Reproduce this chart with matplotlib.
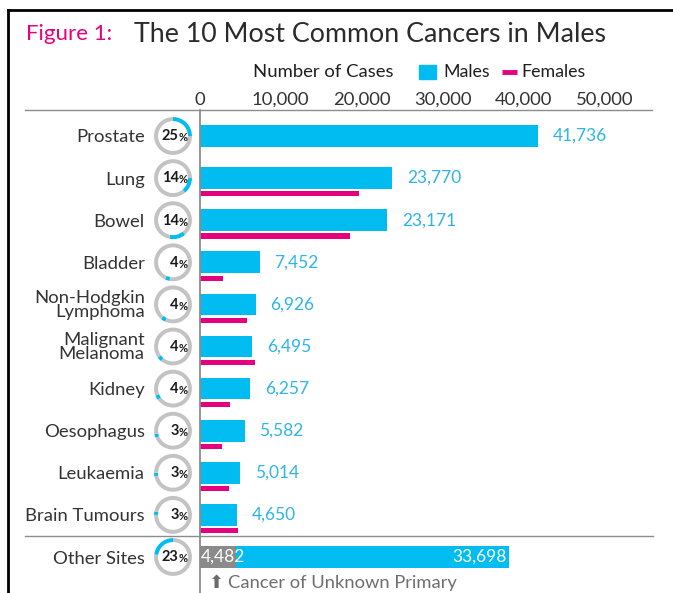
import matplotlib
matplotlib.use("Agg")
import matplotlib.pyplot as plt
from matplotlib.lines import Line2D
from matplotlib.patches import Rectangle

plt.rcParams['font.family'] = ['Lato', 'DejaVu Sans']

# ---- data ----
categories = ["Prostate", "Lung", "Bowel", "Bladder", "Non-Hodgkin\nLymphoma",
              "Malignant\nMelanoma", "Kidney", "Oesophagus", "Leukaemia",
              "Brain Tumours", "Other Sites"]
males = [41736, 23770, 23171, 7452, 6926, 6495, 6257, 5582, 5014, 4650]
females = [0, 19700, 18500, 2950, 5830, 6900, 3820, 2750, 3660, 4700]
percents = [25, 14, 14, 4, 4, 4, 4, 3, 3, 3, 23]
other_unknown_primary = 4482
other_sites = 33698
xticks = [0, 10000, 20000, 30000, 40000, 50000]
xtick_labels = ["0", "10,000", "20,000", "30,000", "40,000", "50,000"]

BLUE = "#00bcf0"
BLUE_TXT = "#2db5e8"
PINK = "#e5007e"
GRAY_RING = "#c3c3c3"
GRAY_BAR = "#8a8a8a"
DARK = "#333333"
LINE = "#8c8c8c"

W, H = 673, 593
fig = plt.figure(figsize=(W / 100, H / 100), dpi=100)

def fx(x):
    return x / W

def fy(y):
    return 1 - y / H

ax_left, ax_right, ax_top, ax_bot = 199.5, 653, 110, 593
ax = fig.add_axes([fx(ax_left), fy(ax_bot), fx(ax_right - ax_left), (ax_bot - ax_top) / H])
px_per_unit = 81.1 / 10000
ax.set_xlim(0, (ax_right - ax_left) / px_per_unit)
row0, rowstep = 136, 42.1
ax.set_ylim((ax_bot - row0) / rowstep, (ax_top - row0) / rowstep)

n = len(males)
rows = list(range(n))
male_h = 0.515
fem_off, fem_h = 0.375, 0.12

ax.barh(rows, males, height=male_h, color=BLUE, edgecolor="none")
fem_rows = [r + fem_off for r, f in zip(rows, females) if f > 0]
fem_vals = [f for f in females if f > 0]
ax.barh(fem_rows, fem_vals, height=fem_h, color=PINK, edgecolor="none")

for r, v in zip(rows, males):
    ax.annotate(f"{v:,}", (v, r), xytext=(10.5, 0), textcoords="offset points",
                va="center", ha="left", fontsize=12.5, color=BLUE_TXT)

# Other sites row
orow = n
ax.barh([orow], [other_unknown_primary], height=male_h, color=GRAY_BAR, edgecolor="none")
ax.barh([orow], [other_sites], left=[other_unknown_primary], height=male_h,
        color=BLUE, edgecolor="none")
ax.annotate(f"{other_unknown_primary:,}", (0, orow), xytext=(1, 0), textcoords="offset points",
            va="center", ha="left", fontsize=12.5, color="white")
ax.annotate(f"{other_sites:,}", (other_unknown_primary + other_sites, orow), xytext=(-2, 0),
            textcoords="offset points", va="center", ha="right", fontsize=12.5, color="white")
ax.annotate("\u2b06", (0, orow), xytext=(6.5, -18.5), textcoords="offset points",
            va="center", ha="left", fontsize=13, color="#6a6a6a", family="DejaVu Sans")
ax.annotate("Cancer of Unknown Primary", (0, orow), xytext=(20.5, -18.5), textcoords="offset points",
            va="center", ha="left", fontsize=13.2, color="#6e6e6e")

# axes styling
for s in ["top", "right", "bottom"]:
    ax.spines[s].set_visible(False)
ax.spines["left"].set_color(LINE)
ax.spines["left"].set_linewidth(1.3)
ax.xaxis.tick_top()
ax.set_xticks(xticks)
ax.set_xticklabels(xtick_labels, fontsize=13.3, color=DARK)
ax.tick_params(axis="x", length=0, pad=1.5)
ax.set_yticks(list(range(n + 1)))
ax.set_yticklabels(categories, fontsize=13.3, color=DARK, linespacing=0.82)
ax.tick_params(axis="y", length=0, pad=39.5)

ax.axhline(n - 0.5, xmin=(25 - ax_left) / (ax_right - ax_left), xmax=1.0,
           color=LINE, lw=1.0, clip_on=False)

# donuts (cumulative arcs)
fig.canvas.draw()
cum = 0
for r, p in zip(range(n + 1), percents):
    ypix = ax.transData.transform((0, r))[1]
    size = 39
    cx = 173
    dax = fig.add_axes([fx(cx - size / 2), (ypix - size / 2) / H, size / W, size / H])
    after = max(0, 100 - cum - p)
    dax.pie([cum, p, after], colors=[GRAY_RING, BLUE, GRAY_RING], startangle=90,
            counterclock=False, radius=1.0,
            wedgeprops=dict(width=0.21, edgecolor="none", linewidth=0))
    dax.set_xlim(-1.03, 1.03)
    dax.set_ylim(-1.03, 1.03)
    dax.set_aspect("equal")
    dax.text(0.3, -0.02, str(p), ha="right", va="center", fontsize=10.5,
             fontweight="bold", color="#1a1a1a")
    dax.text(0.28, -0.1, "%", ha="left", va="center", fontsize=8,
             fontweight="bold", color="#1a1a1a")
    cum += p

# top separator line
fig.add_artist(Line2D([fx(25), fx(652)], [fy(110), fy(110)], color=LINE, lw=1.0))

# frame border (left and top)
fig.add_artist(Line2D([fx(8), fx(8)], [0, fy(10)], color="black", lw=2))
fig.add_artist(Line2D([fx(8), 1], [fy(10), fy(10)], color="black", lw=2))

# title
fig.text(fx(26), fy(34), "Figure 1:", fontsize=16, color=PINK, va="center", ha="left")
fig.text(fx(134), fy(34), "The 10 Most Common Cancers in Males", fontsize=19.3,
         color="#2b2b2b", va="center", ha="left")

# legend
fig.text(fx(253), fy(72), "Number of Cases", fontsize=13.3, color="#1e1e1e", va="center", ha="left")
fig.add_artist(Rectangle((fx(419), fy(79)), fx(17), 14 / H, color=BLUE, transform=fig.transFigure))
fig.text(fx(443), fy(72), "Males", fontsize=12.8, color="#1e1e1e", va="center", ha="left")
fig.add_artist(Line2D([fx(502), fx(517)], [fy(72), fy(72)], color=PINK, lw=3.5,
                      solid_capstyle="butt"))
fig.text(fx(521), fy(72), "Females", fontsize=12.8, color="#1e1e1e", va="center", ha="left")

fig.savefig("out.png", dpi=100)
